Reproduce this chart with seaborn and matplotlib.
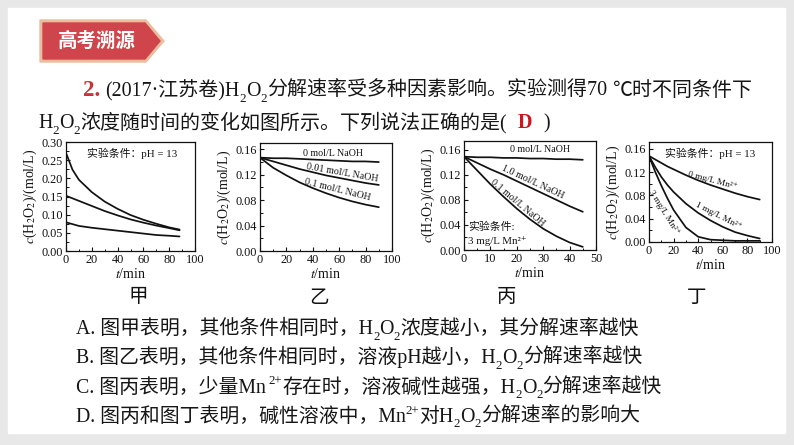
import numpy as np
import pandas as pd
import matplotlib
matplotlib.use("Agg")
import matplotlib.pyplot as plt
import seaborn as sns
from matplotlib.patches import Polygon, Rectangle
from matplotlib.ticker import MultipleLocator

# ---------------- data ----------------
# 甲 (pH = 13, different initial concentrations)
jia_t = [0, 5, 10, 20, 30, 40, 50, 60, 70, 80, 88]
jia_high = [0.270, 0.224, 0.196, 0.162, 0.136, 0.116, 0.099, 0.086, 0.075, 0.065, 0.059]
jia_mid = [0.152, 0.145, 0.138, 0.124, 0.110, 0.098, 0.087, 0.078, 0.070, 0.063, 0.057]
jia_low = [0.079, 0.074, 0.069, 0.064, 0.060, 0.056, 0.052, 0.048, 0.044, 0.042, 0.040]

# 乙 (NaOH concentration)
yi_t = [0, 10, 20, 30, 40, 50, 60, 70, 80, 90]
yi_0 = [0.147, 0.146, 0.146, 0.145, 0.144, 0.143, 0.142, 0.141, 0.141, 0.140]
yi_001 = [0.147, 0.141, 0.135, 0.129, 0.124, 0.119, 0.115, 0.111, 0.107, 0.104]
yi_01 = [0.147, 0.131, 0.119, 0.108, 0.099, 0.091, 0.084, 0.078, 0.073, 0.069]

# 丙 (3 mg/L Mn2+, NaOH concentration)
bing_t = [0, 5, 10, 15, 20, 25, 30, 35, 40, 45]
bing_0 = [0.149, 0.148, 0.148, 0.147, 0.147, 0.146, 0.146, 0.145, 0.145, 0.144]
bing_10 = [0.149, 0.139, 0.129, 0.120, 0.110, 0.100, 0.090, 0.080, 0.070, 0.061]
bing_01 = [0.149, 0.127, 0.105, 0.085, 0.066, 0.049, 0.034, 0.022, 0.012, 0.005]

# 丁 (pH = 13, Mn2+ concentration)
ding_t = [0, 5, 10, 15, 20, 30, 40, 50, 60, 70, 80, 90]
ding_0 = [0.148, 0.142, 0.136, 0.130, 0.125, 0.115, 0.106, 0.098, 0.091, 0.084, 0.078, 0.073]
ding_1 = [0.148, 0.129, 0.112, 0.098, 0.086, 0.066, 0.050, 0.037, 0.026, 0.017, 0.011, 0.006]
ding_3 = [0.148, 0.121, 0.097, 0.075, 0.055, 0.025, 0.009, 0.004, 0.003, 0.002, 0.002, 0.002]

panel_names = ["甲", "乙", "丙", "丁"]

# ---------------- style ----------------
sns.set_theme(style="white")
SERIF = ["Liberation Serif", "DejaVu Serif", "Noto Sans CJK SC"]
MIX = ["Liberation Serif", "Noto Sans CJK SC", "DejaVu Sans"]
CJK = ["Noto Sans CJK SC", "DejaVu Sans"]
plt.rcParams["font.family"] = MIX
plt.rcParams["mathtext.fontset"] = "stix"

W, H = 794, 445
fig = plt.figure(figsize=(W / 100, H / 100), dpi=100)
bg = fig.add_axes([0, 0, 1, 1], zorder=-5)
bg.set_xlim(0, W)
bg.set_ylim(H, 0)
bg.axis("off")
bg.add_patch(Rectangle((0, 0), W, H, color="#e8e8e8", zorder=0))
bg.add_patch(Rectangle((8, 8), 777, 425, color="white", zorder=1))

# badge
bg.add_patch(Polygon([(40, 20), (146, 20), (164, 41), (146, 62), (40, 62)],
                     closed=True, color="#ebbd9f", zorder=2))
bg.add_patch(Polygon([(43, 23), (145, 23), (160, 41), (145, 59), (43, 59)],
                     closed=True, color="#d0454b", zorder=3))
bg.text(97, 41.5, "高考溯源", color="white", fontsize=14, fontweight="bold",
        family=CJK, ha="center", va="center", zorder=4)

renderer = fig.canvas.get_renderer()


def runs(x, y, parts, size):
    for p in parts:
        txt = p[0]
        o = p[1] if len(p) > 1 else {}
        s = size * o.get("scale", 1.0)
        dy = o.get("dy", 0.0) * size * 100 / 72
        t = bg.text(x, y + dy, txt, fontsize=s, color=o.get("color", "#161616"),
                    fontweight=o.get("weight", "normal"),
                    family=o.get("family", MIX), ha="left", va="baseline", zorder=5)
        bb = t.get_window_extent(renderer=renderer)
        x += bb.width + o.get("gap", 0)
    return x


SUB = {"scale": 0.65, "dy": 0.28}
SUP = {"scale": 0.65, "dy": -0.42}

TS = 14.4
runs(83, 96, [("2.", {"color": "#c8333b", "weight": "bold", "scale": 1.15, "gap": 5}),
              ("(2017·江苏卷)H",), ("2", SUB), ("O",), ("2", SUB),
              ("分解速率受多种因素影响。实验测得70", {"gap": 5}), ("℃时不同条件下",)], TS)
runs(38, 128, [("H",), ("2", SUB), ("O",), ("2", SUB),
               ("浓度随时间的变化如图所示。下列说法正确的是(", {"gap": 11}),
               ("D", {"color": "#d0141c", "weight": "bold", "gap": 11}), (")",)], TS)

OS = 14.3
opts = [
    [("A. 图甲表明，其他条件相同时，H",), ("2", SUB), ("O",), ("2", SUB), ("浓度越小，其分解速率越快",)],
    [("B. 图乙表明，其他条件相同时，溶液pH越小，H",), ("2", SUB), ("O",), ("2", SUB), ("分解速率越快",)],
    [("C. 图丙表明，少量Mn", {"gap": 3}), ("2+", SUP), ("存在时，溶液碱性越强，H",), ("2", SUB), ("O",), ("2", SUB), ("分解速率越快",)],
    [("D. 图丙和图丁表明，碱性溶液中，Mn",), ("2+", SUP), ("对H",), ("2", SUB), ("O",), ("2", SUB), ("分解速率的影响大",)],
]
for i, parts in enumerate(opts):
    runs(76, 334 + 29.3 * i, parts, OS)

# panel labels
for name, xc in zip(panel_names, [138, 319, 506, 697]):
    bg.text(xc, 297, name, fontsize=14, family=CJK, ha="center", va="center",
            color="#111", zorder=5)


def pix_axes(l, t, r, b):
    return fig.add_axes([l / W, 1 - b / H, (r - l) / W, (b - t) / H])


def style(ax, xmax, xmaj, xmin, ymax, ymaj, ymin, yfmt):
    ax.set_xlim(0, xmax)
    ax.set_ylim(0, ymax)
    ax.xaxis.set_major_locator(MultipleLocator(xmaj))
    ax.xaxis.set_minor_locator(MultipleLocator(xmin))
    ax.yaxis.set_major_locator(MultipleLocator(ymaj))
    ax.yaxis.set_minor_locator(MultipleLocator(ymin))
    ax.yaxis.set_major_formatter(matplotlib.ticker.FormatStrFormatter(yfmt))
    ax.tick_params(which="both", direction="in", top=False, right=False,
                   left=True, bottom=True, labelsize=8.8, pad=2, colors="#111")
    ax.tick_params(which="major", length=3, width=0.8)
    ax.tick_params(which="minor", length=1.8, width=0.7)
    for s in ax.spines.values():
        s.set_color("#111")
        s.set_linewidth(0.9)
    for lab in ax.get_xticklabels() + ax.get_yticklabels():
        lab.set_family(SERIF)
    ax.set_xlabel(r"$t$/min", fontsize=10, labelpad=1, family=SERIF, color="#111")
    ax.set_ylabel(r"$c$(H$_2$O$_2$)/(mol/L)", fontsize=10, labelpad=2,
                  family=SERIF, color="#111")
    ax.patch.set_alpha(0)


def draw(ax, t, series):
    rows = []
    for name, vals in series.items():
        for tt, v in zip(t, vals):
            rows.append({"t": tt, "c": v, "s": name})
    df = pd.DataFrame(rows)
    sns.lineplot(data=df, x="t", y="c", hue="s", palette=["#111"] * len(series),
                 legend=False, ax=ax, linewidth=1.25, estimator=None, sort=True)


def fig_text(px, py, s, rot=0, size=7.5, fam=MIX, ha="center"):
    bg.text(px, py, s, rotation=rot, fontsize=size, family=fam, ha=ha,
            va="center", color="#111", zorder=6, rotation_mode="anchor")


# 甲
ax1 = pix_axes(66, 142, 195, 251)
draw(ax1, jia_t, {"a": jia_high, "b": jia_mid, "c": jia_low})
style(ax1, 100, 20, 10, 0.30, 0.05, 0.025, "%.2f")

# 乙
ax2 = pix_axes(260, 143, 392, 251)
draw(ax2, yi_t, {"a": yi_0, "b": yi_001, "c": yi_01})
style(ax2, 100, 20, 10, 0.17, 0.04, 0.02, "%.2f")

# 丙
ax3 = pix_axes(464, 141, 596, 250)
draw(ax3, bing_t, {"a": bing_0, "b": bing_10, "c": bing_01})
style(ax3, 50, 10, 5, 0.174, 0.04, 0.02, "%.2f")

# 丁
ax4 = pix_axes(649, 142, 772, 242)
draw(ax4, ding_t, {"a": ding_0, "b": ding_1, "c": ding_3})
style(ax4, 100, 20, 10, 0.172, 0.04, 0.02, "%.2f")

# annotations
fig_text(132, 153, "实验条件：pH = 13", size=7.8)
fig_text(333, 153, "0 mol/L NaOH", size=7.2)
fig_text(342, 173, "0.01 mol/L NaOH", rot=-10, size=7.2)
fig_text(337, 190, "0.1 mol/L NaOH", rot=-14, size=7.2)
fig_text(540, 150, "0 mol/L NaOH", size=7.2)
fig_text(533, 182, "1.0 mol/L NaOH", rot=-25, size=7.2)
fig_text(518, 203, "0.1 mol/L NaOH", rot=-40, size=7.2)
fig_text(468, 227, "实验条件:", size=7.8, ha="left")
fig_text(468, 241, "3 mg/L Mn²⁺", size=7.8, ha="left", fam=SERIF)
fig_text(710, 153, "实验条件：pH = 13", size=7.8)
fig_text(713, 180, "0 mg/L Mn²⁺", rot=-15, size=6.8, fam=SERIF)
fig_text(718, 216, "1 mg/L Mn²⁺", rot=-27, size=6.8, fam=SERIF)
fig_text(664, 212, "3 mg/L Mn²⁺", rot=-58, size=6.8, fam=SERIF)

fig.savefig("out.png", dpi=100)
